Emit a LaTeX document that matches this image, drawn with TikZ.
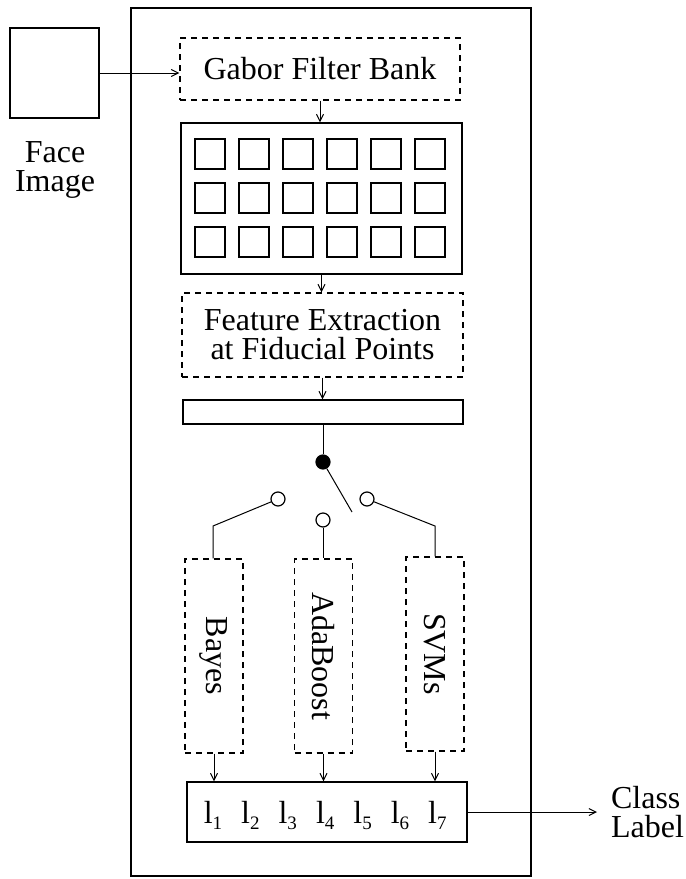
\documentclass[tikz,border=0pt]{standalone}
\usepackage{fontspec}
\setmainfont{Liberation Serif}
\usepackage{graphicx}
\usetikzlibrary{arrows.meta,calc,positioning}

\newcommand{\lab}[1]{l\raisebox{-3pt}{\fontsize{9.5}{10}\selectfont #1}}

\begin{document}
\begin{tikzpicture}[x=0.5pt,y=-0.5pt,font=\fontsize{16}{14.5}\selectfont,
  >={Straight Barb[length=3.5pt,width=3.5pt]},
  box/.style={draw,line width=0.7pt,inner sep=0pt},
  dbox/.style={box,dash pattern=on 3pt off 2.5pt},
  sq/.style={box,minimum size=15pt},
  pin/.style={circle,draw,line width=0.6pt,minimum size=7pt,inner sep=0pt},
  wire/.style={line width=0.5pt}]
\useasboundingbox (0,0) rectangle (686,879);
\draw[line width=1pt] (131,8) rectangle (531,876);
% input
\node[box,minimum width=44.5pt,minimum height=45pt] (face) at (54.5,73) {};
\node[align=center] (facetxt) at (55,170) {Face\\Image};
\node[dbox,minimum width=140pt,minimum height=31pt] (gabor) at (320,69) {Gabor Filter Bank};
\draw[wire,->] (face.east) -- (gabor.west |- face.east);
% filter responses
\node[box,minimum width=140.5pt,minimum height=75.5pt] (bank) at (321.5,198.5) {};
\foreach \r in {0,1,2}
  \foreach \c in {0,...,5}
    \node[sq] (f\r\c) at (210+44*\c,154+44*\r) {};
\draw[wire,->] (gabor.south) -- (gabor.south |- bank.north);
\node[dbox,minimum width=140.5pt,minimum height=42pt,align=center] (feat) at (322.5,335) {Feature Extraction\\at Fiducial Points};
\draw[wire,->] (bank.south) -- (bank.south |- feat.north);
\node[box,minimum width=140pt,minimum height=12pt] (vec) at (323,412) {};
\draw[wire,->] (feat.south) -- (feat.south |- vec.north);
% switch
\node[pin,fill=black] (hub) at (323,462) {};
\node[pin] (pB) at (278,499) {};
\node[pin] (pA) at (323,520) {};
\node[pin] (pS) at (367,499) {};
\coordinate (tip) at (352,512);
\coordinate (kB) at (213,526);
\coordinate (kS) at (435,526);
\draw[wire] (vec.south) -- (hub);
\draw[wire] (hub) -- (tip);
% classifiers
\node[dbox,minimum width=29pt,minimum height=97pt] (bayes) at (214,656) {\rotatebox{-90}{Bayes}};
\node[dbox,minimum width=29pt,minimum height=97pt] (ada) at (323.5,656) {\rotatebox{-90}{AdaBoost}};
\node[dbox,minimum width=29pt,minimum height=97pt] (svm) at (435,654) {\rotatebox{-90}{SVMs}};
\draw[wire] (pB) -- (kB) -- (kB |- bayes.north);
\draw[wire] (pA) -- (pA |- ada.north);
\draw[wire] (pS) -- (kS) -- (kS |- svm.north);
% output
\node[box,minimum width=140pt,minimum height=30pt] (cls) at (327,812) {};
\foreach \i in {1,...,7}
  \node (l\i) at (175.6+37.4*\i,815) {\lab{\i}};
\draw[wire,->] (bayes.south) -- (bayes.south |- cls.north);
\draw[wire,->] (ada.south) -- (ada.south |- cls.north);
\draw[wire,->] (svm.south) -- (svm.south |- cls.north);
\coordinate (out) at (597,812);
\draw[wire,->] (cls.east) -- (out);
\node[align=left,anchor=west] (outtxt) at (604,812) {Class\\Label};
\end{tikzpicture}
\end{document}
